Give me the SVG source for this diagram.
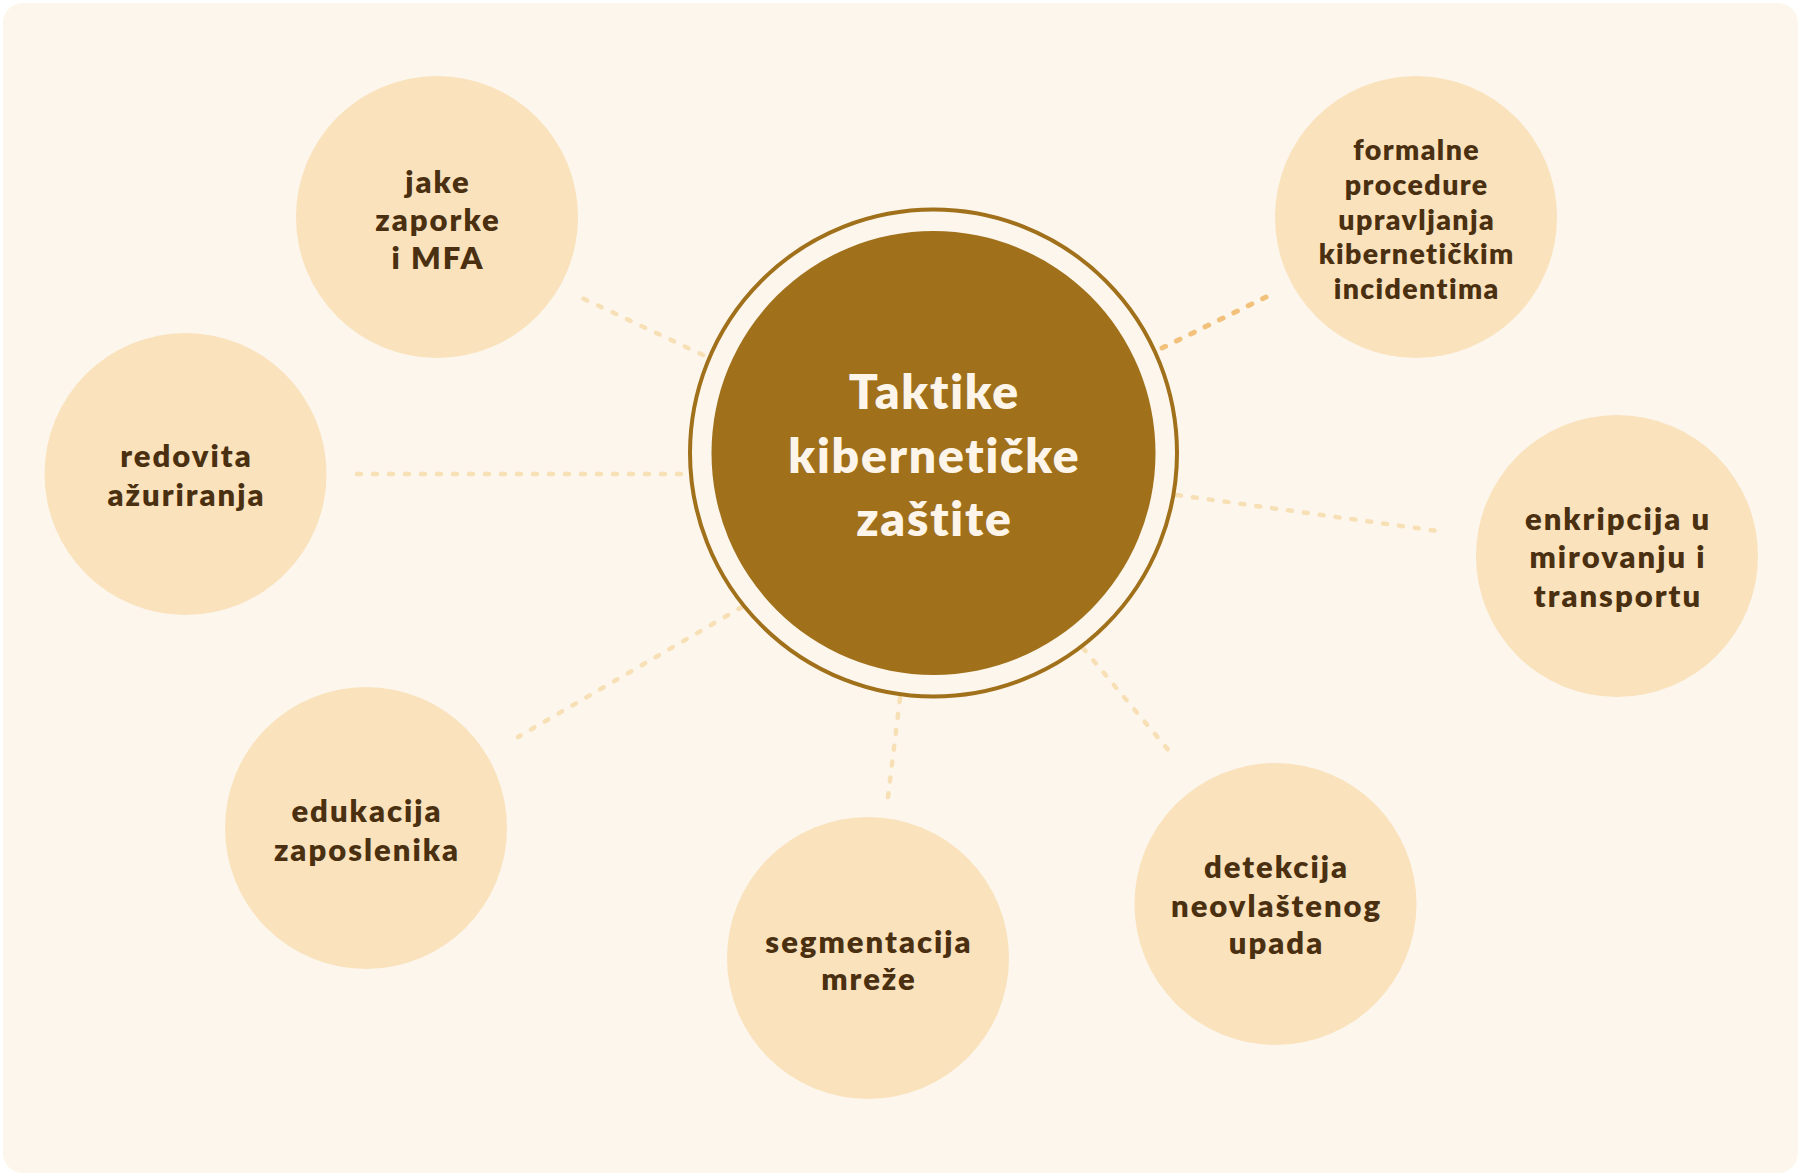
<svg xmlns="http://www.w3.org/2000/svg" width="1801" height="1176" viewBox="0 0 1801 1176">
  <style>
    .node circle { fill: #f9e2bc; }
    .node text { font-family: Lato, "Open Sans", "Liberation Sans", sans-serif; font-weight: 800; font-size: 31px; letter-spacing: 2px; fill: #4a3010; text-anchor: middle; }
    .node text.small { font-size: 28.5px; letter-spacing: 1.4px; }
    .center text { font-family: Lato, "Open Sans", "Liberation Sans", sans-serif; font-weight: 800; font-size: 48px; letter-spacing: 1.8px; fill: #fdf5ea; text-anchor: middle; }
    .conn line { stroke: #f8e0b6; stroke-width: 4.5; stroke-linecap: round; stroke-dasharray: 4 12; fill: none; }
    .conn line.hl { stroke: #f2c27c; stroke-width: 5; }
  </style>
  <rect x="0" y="0" width="1801" height="1176" fill="#ffffff"/>
  <rect x="3" y="3" width="1795" height="1170" rx="20" ry="20" fill="#fdf6ec"/>

  <g id="connectors" class="conn">
    <line x1="703" y1="355" x2="582" y2="298"/>
    <line x1="681" y1="474" x2="356" y2="474"/>
    <line x1="742" y1="607" x2="518" y2="737"/>
    <line x1="900" y1="698" x2="888" y2="797"/>
    <line x1="1083" y1="648" x2="1175" y2="758"/>
    <line x1="1177" y1="495" x2="1438" y2="531"/>
    <line class="hl" x1="1162" y1="348" x2="1266" y2="297"/>
  </g>

  <g id="center" class="center">
    <circle cx="933.5" cy="453" r="243.5" fill="none" stroke="#a0701a" stroke-width="4"/>
    <circle cx="933.5" cy="453" r="222" fill="#a0701a"/>
    <text x="934.4" y="409">Taktike</text>
    <text x="934.4" y="473">kibernetičke</text>
    <text x="934.4" y="536">zaštite</text>
  </g>

  <g id="node-jake" class="node">
    <circle cx="437" cy="217" r="141"/>
    <text x="438" y="193">jake</text>
    <text x="438" y="231">zaporke</text>
    <text x="438" y="269">i MFA</text>
  </g>

  <g id="node-redovita" class="node">
    <circle cx="185.5" cy="474" r="141"/>
    <text x="186.5" y="467">redovita</text>
    <text x="186.5" y="506">ažuriranja</text>
  </g>

  <g id="node-edukacija" class="node">
    <circle cx="366" cy="828" r="141"/>
    <text x="367" y="822">edukacija</text>
    <text x="367" y="861">zaposlenika</text>
  </g>

  <g id="node-segmentacija" class="node">
    <circle cx="868" cy="958" r="141"/>
    <text x="869" y="953">segmentacija</text>
    <text x="869" y="990">mreže</text>
  </g>

  <g id="node-detekcija" class="node">
    <circle cx="1275.5" cy="904" r="141"/>
    <text x="1276.5" y="878">detekcija</text>
    <text x="1276.5" y="917">neovlaštenog</text>
    <text x="1276.5" y="954">upada</text>
  </g>

  <g id="node-enkripcija" class="node">
    <circle cx="1617" cy="556" r="141"/>
    <text x="1618" y="530">enkripcija u</text>
    <text x="1618" y="568">mirovanju i</text>
    <text x="1618" y="607">transportu</text>
  </g>

  <g id="node-formalne" class="node">
    <circle cx="1416" cy="217" r="141"/>
    <text class="small" x="1416.7" y="160">formalne</text>
    <text class="small" x="1416.7" y="195">procedure</text>
    <text class="small" x="1416.7" y="230">upravljanja</text>
    <text class="small" x="1416.7" y="264">kibernetičkim</text>
    <text class="small" x="1416.7" y="299">incidentima</text>
  </g>
</svg>
